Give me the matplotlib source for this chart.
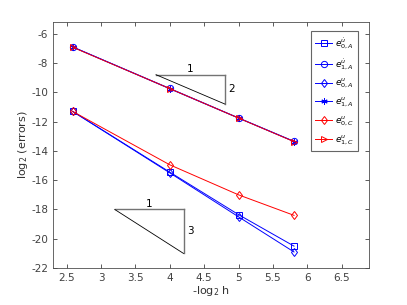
import numpy as np
import matplotlib
matplotlib.use('Agg')
import matplotlib.pyplot as plt

# data
x = [2.585, 4.0, 5.0, 5.807]
e0A_ud = [-11.30, -15.45, -18.35, -20.50]
e1A_ud = [-6.90, -9.74, -11.75, -13.35]
e0A_u = [-11.30, -15.50, -18.50, -20.90]
e1A_u = [-6.90, -9.76, -11.76, -13.36]
e0C_u = [-11.30, -14.95, -17.00, -18.40]
e1C_u = [-6.92, -9.75, -11.76, -13.37]

labels = [r'$e^{\dot{u}}_{0,A}$', r'$e^{\dot{u}}_{1,A}$', r'$e^{u}_{0,A}$',
          r'$e^{u}_{1,A}$', r'$e^{u}_{0,C}$', r'$e^{u}_{1,C}$']
series = [e0A_ud, e1A_ud, e0A_u, e1A_u, e0C_u, e1C_u]
colors = ['#0000ff', '#0000ff', '#0000ff', '#0000ff', '#ff0000', '#ff0000']
markers = ['s', 'o', 'd', (6, 2, 0), 'd', '>']

# slope triangles: (x0, y0, dx, dy)
tri_top = (3.8, -8.8, 1.0, 2.0)
tri_bot = (3.2, -18.0, 1.0, 3.0)

plt.rcParams['font.family'] = ['DejaVu Sans']
fig = plt.figure(figsize=(4.07, 3.05), dpi=100)
ax = fig.add_axes([0.130, 0.121, 0.777, 0.807])

for y, c, m, lab in zip(series, colors, markers, labels):
    ax.plot(x, y, color=c, marker=m, markersize=4.5, markerfacecolor='none',
            markeredgecolor=c, linewidth=0.7, markeredgewidth=0.7, label=lab)

for (x0, y0, dx, dy), lab in zip([tri_top, tri_bot], ['2', '3']):
    ax.plot([x0, x0 + dx], [y0, y0], color='0.45', lw=1.0)
    ax.plot([x0 + dx, x0 + dx], [y0, y0 - dy], color='0.45', lw=1.0)
    ax.plot([x0, x0 + dx], [y0, y0 - dy], color='k', lw=0.6)
    ax.text(x0 + dx / 2, y0 + 0.02, '1', ha='center', va='bottom', fontsize=7.5)
    ax.text(x0 + dx + 0.1, y0 - dy / 2, lab, ha='center', va='center', fontsize=7.5)

ax.set_xlim(2.3, 6.9)
ax.set_ylim(-22, -5.2)
ax.set_xticks(np.arange(2.5, 6.51, 0.5))
ax.set_xticklabels(['2.5', '3', '3.5', '4', '4.5', '5', '5.5', '6', '6.5'])
ax.set_yticks(np.arange(-22, -5, 2))
ax.set_yticklabels([str(v) for v in range(-22, -5, 2)])
ax.tick_params(direction='in', top=True, right=True, labelsize=7.5,
               colors='0.25', length=3, width=0.6)
for s in ax.spines.values():
    s.set_color('0.3')
    s.set_linewidth(0.6)
ax.set_xlabel(r'-log$_2$ h', fontsize=8, color='0.2', labelpad=1)
ax.set_ylabel(r'log$_2$ (errors)', fontsize=8, color='0.2', labelpad=1)

leg = ax.legend(loc='upper right', bbox_to_anchor=(0.965, 0.963), fontsize=6.5,
                handlelength=1.9, labelspacing=0.62, borderpad=0.45,
                handletextpad=0.3, borderaxespad=0.0, fancybox=False,
                framealpha=1, edgecolor='0.4')
leg.get_frame().set_linewidth(0.8)

fig.savefig('out.png', dpi=100)
